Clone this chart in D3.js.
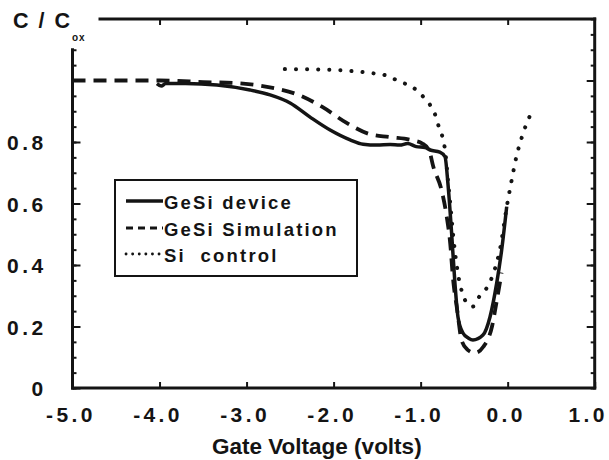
<!DOCTYPE html>
<html><head><meta charset="utf-8">
<script src="https://cdn.jsdelivr.net/npm/d3@7"></script>
<style>
html,body{margin:0;padding:0;background:#fff;}
svg{display:block;}
text{font-family:"Liberation Sans",Arial,Helvetica,sans-serif;font-weight:bold;fill:#141414;}
</style></head><body>
<svg id="chart" width="609" height="460"></svg>
<script>
// ---- data ----
const xTicks = [-5, -4, -3, -2, -1, 0, 1];
const xTickLabels = ["-5.0", "-4.0", "-3.0", "-2.0", "-1.0", "0.0", "1.0"];
const yMajorTicks = [0, 0.2, 0.4, 0.6, 0.8, 1.0];
const yTickLabels = ["0", "0.2", "0.4", "0.6", "0.8", ""];
const seriesNames = ["GeSi device", "GeSi Simulation", "Si  control"];

const deviceV = [-4.03,-3.98,-3.93,-3.7,-3.34,-2.96,-2.73,-2.5,-2.27,-2.04,-1.81,-1.66,-1.5,-1.35,-1.24,-1.15,-1.05,-0.95,-0.89,-0.78,-0.72,-0.687,-0.644,-0.606,-0.571,-0.514,-0.45,-0.399,-0.284,-0.203,-0.126,-0.069,-0.011];
const deviceC = [0.99,0.982,0.99,0.99,0.985,0.969,0.953,0.927,0.881,0.839,0.807,0.793,0.79,0.792,0.79,0.795,0.785,0.782,0.774,0.767,0.752,0.667,0.504,0.341,0.231,0.179,0.162,0.156,0.172,0.231,0.341,0.449,0.59];

const simV = [-5.0,-4.0,-3.5,-3.04,-2.7,-2.4,-2.13,-1.85,-1.59,-1.36,-1.1,-0.98,-0.9,-0.855,-0.76,-0.70,-0.66,-0.63,-0.58,-0.53,-0.46,-0.375,-0.28,-0.18,-0.13,-0.07];
const simC = [1.0,1.0,0.995,0.99,0.976,0.953,0.914,0.862,0.826,0.816,0.806,0.795,0.77,0.72,0.644,0.557,0.47,0.362,0.254,0.156,0.124,0.114,0.134,0.2,0.276,0.375];

const siV = [-2.56,-2.2,-1.9,-1.6,-1.39,-1.24,-1.10,-0.99,-0.90,-0.84,-0.78,-0.74,-0.71,-0.69,-0.66,-0.62,-0.57,-0.51,-0.45,-0.40,-0.32,-0.22,-0.145,-0.09,-0.01,0.046,0.10,0.16,0.22,0.29];
const siC = [1.037,1.036,1.033,1.025,1.016,0.996,0.98,0.953,0.924,0.894,0.839,0.807,0.752,0.687,0.60,0.48,0.37,0.30,0.27,0.265,0.30,0.335,0.389,0.449,0.59,0.676,0.752,0.813,0.862,0.904];

// ---- scales ----
const svg = d3.select("#chart");
const x = d3.scaleLinear().domain([-5, 1]).range([72.5, 594.7]);
const y = d3.scaleLinear().domain([0, 1.2]).range([388, 19]);
const ink = "#141414";

// ---- axes (ticks) ----
function styleAxis(g) {
  g.select(".domain").remove();
  g.selectAll(".tick line").attr("stroke", ink).attr("stroke-width", 2);
  g.selectAll("text").style("font-size", "21px").style("letter-spacing", "3.4px").attr("fill", ink);
}
const leftMinor = d3.range(0, 1.1001, 0.05);
const rightMinor = d3.range(0, 1.2001, 0.05);

svg.append("g").attr("transform", `translate(${x(-5)},0)`)
  .call(d3.axisLeft(y).tickValues(leftMinor).tickSize(-4).tickFormat("")).call(styleAxis);
svg.append("g").attr("transform", `translate(${x(-5)},0)`)
  .call(d3.axisLeft(y).tickValues(yMajorTicks).tickSize(-8).tickPadding(26)
    .tickFormat((d, i) => yTickLabels[i])).call(styleAxis)
  .selectAll("text").attr("dy", "0.36em");

svg.append("g").attr("transform", `translate(${x(1)},0)`)
  .call(d3.axisRight(y).tickValues(rightMinor).tickSize(-4).tickFormat("")).call(styleAxis);
svg.append("g").attr("transform", `translate(${x(1)},0)`)
  .call(d3.axisRight(y).tickValues([0.2, 0.4, 0.6, 0.8, 1.0]).tickSize(-8).tickFormat("")).call(styleAxis);

const bottom = svg.append("g").attr("transform", `translate(0,${y(0)})`)
  .call(d3.axisBottom(x).tickValues(xTicks).tickSize(-6).tickFormat((d, i) => xTickLabels[i])).call(styleAxis);
bottom.selectAll("text").attr("y", 34).attr("dy", 0).attr("dx", (d, i) => i === xTicks.length - 1 ? -7 : -2);

svg.append("g").attr("transform", `translate(0,${y(1.2)})`)
  .call(d3.axisTop(x).tickValues([-4, -3, -2, -1, 0]).tickSize(-6).tickFormat("")).call(styleAxis);

// ---- frame ----
const frame = svg.append("g").attr("stroke", ink).attr("stroke-width", 3).attr("stroke-linecap", "square");
frame.append("line").attr("x1", x(-5)).attr("x2", x(-5)).attr("y1", y(1.1)).attr("y2", y(0));
frame.append("line").attr("x1", x(-5)).attr("x2", x(1)).attr("y1", y(0)).attr("y2", y(0));
frame.append("line").attr("x1", x(1)).attr("x2", x(1)).attr("y1", y(0)).attr("y2", y(1.2));
frame.append("line").attr("x1", 100).attr("x2", x(1)).attr("y1", y(1.2)).attr("y2", y(1.2));

// ---- curves ----
const line = d3.line().x(d => x(d[0])).y(d => y(d[1])).curve(d3.curveMonotoneX);
const zip = (a, b) => a.map((v, i) => [v, b[i]]);

svg.append("path").datum(zip(siV, siC)).attr("d", line)
  .attr("fill", "none").attr("stroke", ink).attr("stroke-width", 4)
  .attr("stroke-linecap", "round").attr("stroke-dasharray", "0.1,11");
svg.append("path").datum(zip(simV, simC)).attr("d", line)
  .attr("fill", "none").attr("stroke", ink).attr("stroke-width", 3.8)
  .attr("stroke-dasharray", "13,8");
svg.append("path").datum(zip(deviceV, deviceC)).attr("d", line)
  .attr("fill", "none").attr("stroke", ink).attr("stroke-width", 3.5)
  .attr("stroke-linejoin", "round");

// ---- legend ----
const lg = svg.append("g");
lg.append("rect").attr("x", 115).attr("y", 180).attr("width", 242).attr("height", 96)
  .attr("fill", "#fff").attr("stroke", ink).attr("stroke-width", 2);
const rowBase = [209, 236, 262];
const sampleStyles = [
  {dash: null, w: 3.5, cap: "butt"},
  {dash: "7,5", w: 3.2, cap: "butt"},
  {dash: "0.1,6.5", w: 2.8, cap: "round"}
];
seriesNames.forEach((name, i) => {
  const s = lg.append("line").attr("x1", 126).attr("x2", 163)
    .attr("y1", rowBase[i] - 8).attr("y2", rowBase[i] - 8)
    .attr("stroke", ink).attr("stroke-width", sampleStyles[i].w)
    .attr("stroke-linecap", sampleStyles[i].cap);
  if (sampleStyles[i].dash) s.attr("stroke-dasharray", sampleStyles[i].dash);
  lg.append("text").attr("x", 164).attr("y", rowBase[i]).text(name)
    .style("font-size", "18.5px").style("letter-spacing", "2.2px").style("white-space", "pre");
});

// ---- titles ----
svg.append("text").attr("x", 212).attr("y", 454).text("Gate Voltage (volts)")
  .style("font-size", "22.5px");
const yl = svg.append("text").attr("x", 13).attr("y", 28).style("font-size", "21.5px").style("letter-spacing", "2px");
yl.append("tspan").text("C / C");
yl.append("tspan").attr("x", 72).attr("y", 41).style("font-size", "10px").style("letter-spacing", "1px").text("ox");
</script>
</body></html>
